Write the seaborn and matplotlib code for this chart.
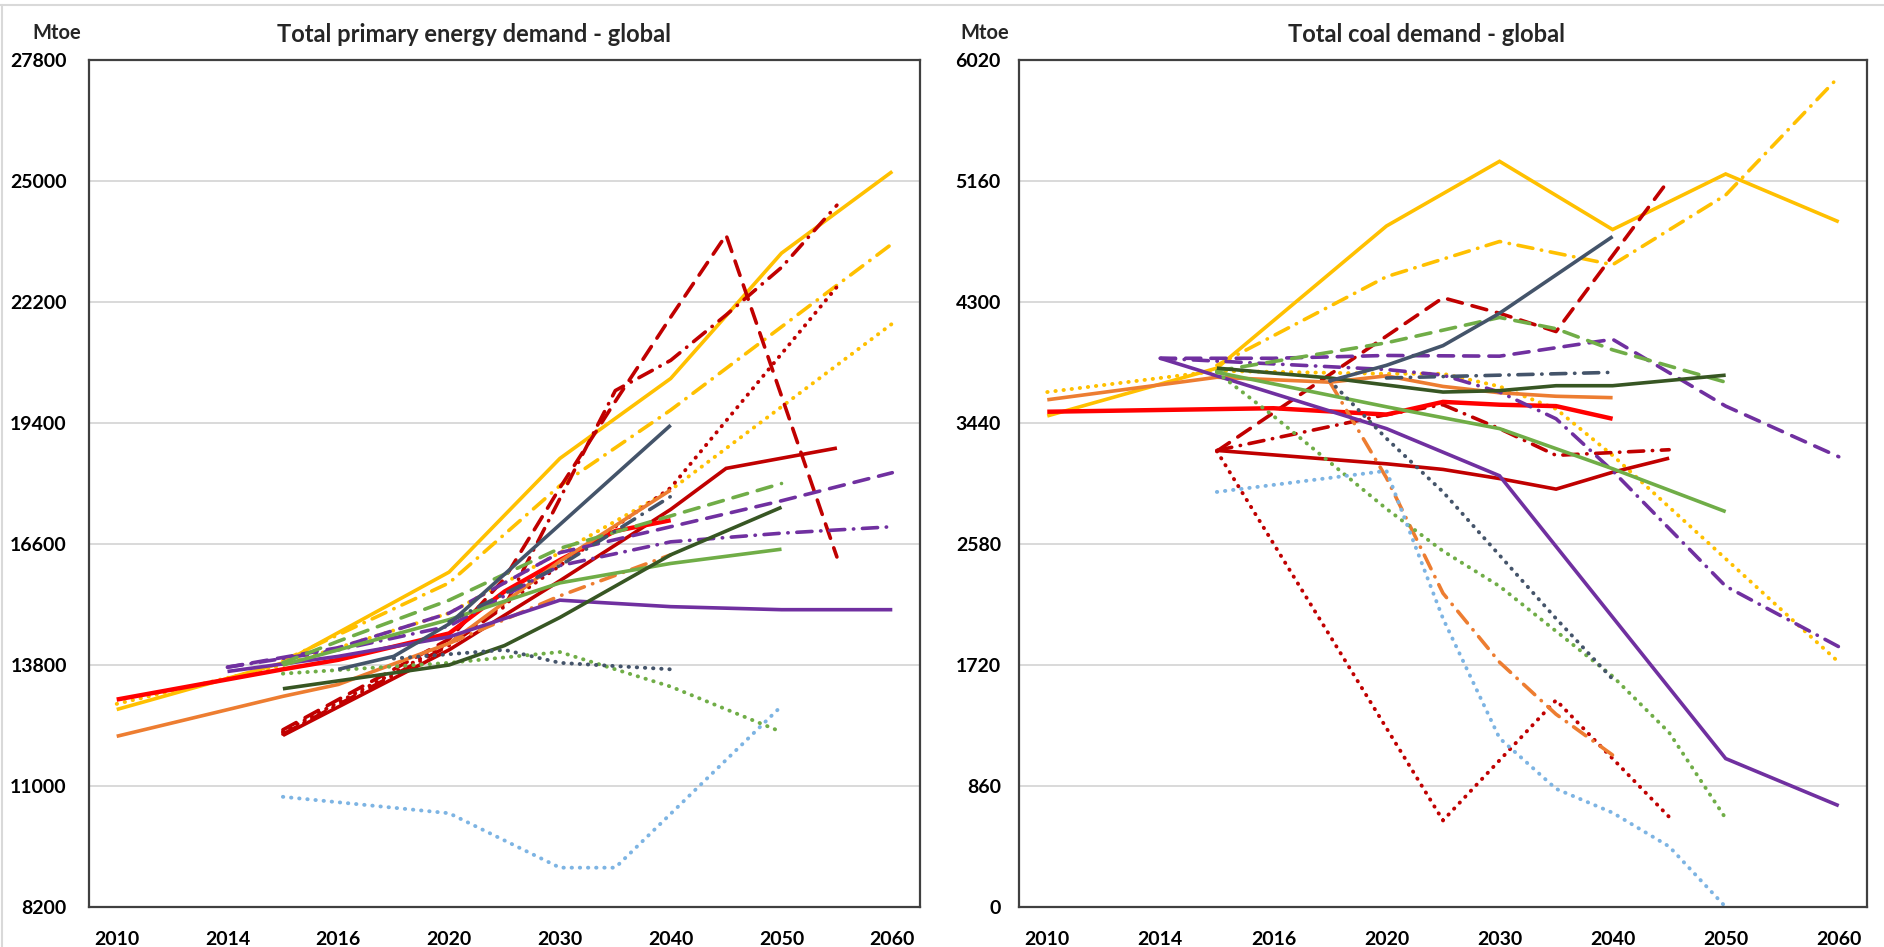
import numpy as np
import matplotlib
matplotlib.use("Agg")
import matplotlib.pyplot as plt
import seaborn as sns
from matplotlib.lines import Line2D

# category axis: labels only on every second slot
year_labels = ["2010", "", "2014", "", "2016", "", "2020", "", "2030", "", "2040", "", "2050", "", "2060"]

# ---- Total primary energy demand (Mtoe), (category index, value) ----
tpe_gold_solid = [(0, 12770), (3, 13850), (6, 15950), (8, 18580), (10, 20430), (12, 23330), (14, 25220)]
tpe_gold_dashdot = [(3, 13900), (6, 15700), (8, 17950), (10, 19700), (14, 23550)]
tpe_gold_dot = [(0, 12900), (3, 13800), (6, 15000), (8, 16400), (10, 17850), (14, 21700)]
tpe_darkred_solid = [(3, 12170), (6, 14150), (8, 15750), (10, 17400), (11, 18350), (13, 18820)]
tpe_darkred_dash = [(3, 12300), (6, 14400), (7, 15800), (8, 17900), (9, 19900), (10, 21850), (11, 23750), (13, 16300)]
tpe_darkred_dashdot = [(3, 12200), (6, 14250), (7, 15150), (9, 20150), (10, 20850), (11, 21900), (12, 23000), (13, 24440)]
tpe_darkred_dot = [(3, 12250), (6, 14300), (8, 16100), (10, 17900), (13, 22550)]
tpe_red_solid = [(0, 13000), (3, 13700), (4, 13920), (6, 14530), (7, 15500), (8, 16230), (9, 16900), (10, 17150)]
tpe_orange_solid = [(0, 12150), (3, 13075), (4, 13350), (6, 14300), (8, 16200), (10, 17850)]
tpe_orange_dashdot = [(6, 14300), (8, 15400), (10, 16350)]
tpe_purple_solid = [(2, 13650), (4, 14000), (6, 14450), (8, 15300), (10, 15150), (12, 15080), (14, 15080)]
tpe_purple_dash = [(2, 13750), (4, 14200), (6, 15000), (8, 16400), (10, 17000), (12, 17600), (14, 18250)]
tpe_purple_dashdot = [(2, 13750), (4, 14150), (6, 14700), (8, 16100), (10, 16650), (12, 16850), (14, 17000)]
tpe_green_solid = [(3, 13800), (4, 14150), (6, 14850), (8, 15700), (10, 16150), (12, 16480)]
tpe_green_dash = [(3, 13850), (4, 14350), (6, 15300), (8, 16500), (10, 17250), (12, 18000)]
tpe_green_dot = [(3, 13600), (6, 13850), (8, 14100), (10, 13300), (12, 12250)]
tpe_darkgreen_solid = [(3, 13250), (6, 13800), (7, 14250), (8, 14900), (10, 16350), (12, 17450)]
tpe_slate_solid = [(4, 13700), (5, 14000), (6, 14750), (8, 17050), (10, 19350)]
tpe_slate_dashdot = [(6, 14800), (8, 16100), (10, 17700)]
tpe_slate_dot = [(5, 13950), (6, 14050), (7, 14150), (8, 13850), (10, 13700)]
tpe_lightblue_dot = [(3, 10750), (6, 10370), (8, 9110), (9, 9110), (12, 12850)]

# ---- Total coal demand (Mtoe) ----
coal_gold_solid = [(0, 3490), (3, 3830), (6, 4840), (8, 5300), (10, 4815), (12, 5210), (14, 4870)]
coal_gold_dashdot = [(3, 3850), (6, 4480), (8, 4730), (10, 4565), (12, 5060), (14, 5900)]
coal_gold_dot = [(0, 3660), (3, 3810), (6, 3790), (7, 3790), (8, 3700), (9, 3540), (10, 3210), (14, 1740)]
coal_darkred_solid = [(3, 3245), (6, 3150), (7, 3110), (8, 3045), (9, 2970), (10, 3090), (11, 3190)]
coal_darkred_dash = [(3, 3240), (7, 4330), (8, 4220), (9, 4090), (11, 5170)]
coal_darkred_dashdot = [(3, 3245), (6, 3500), (7, 3570), (8, 3400), (9, 3210), (10, 3230), (11, 3250)]
coal_darkred_dot = [(3, 3240), (7, 615), (9, 1470), (11, 640)]
coal_red_solid = [(0, 3520), (4, 3545), (6, 3500), (7, 3590), (8, 3570), (9, 3560), (10, 3470)]
coal_orange_solid = [(0, 3605), (3, 3765), (5, 3730), (6, 3775), (7, 3700), (8, 3655), (9, 3630), (10, 3620)]
coal_orange_dashdot = [(5, 3730), (6, 3050), (7, 2230), (8, 1740), (9, 1370), (10, 1080)]
coal_purple_solid = [(2, 3900), (6, 3400), (8, 3065), (12, 1055), (14, 720)]
coal_purple_dash = [(2, 3900), (4, 3900), (6, 3920), (8, 3915), (9, 3975), (10, 4035), (12, 3560), (14, 3200)]
coal_purple_dashdot = [(2, 3900), (4, 3860), (6, 3820), (7, 3780), (8, 3660), (9, 3470), (10, 3100), (12, 2280), (14, 1850)]
coal_green_solid = [(3, 3800), (6, 3555), (8, 3400), (10, 3115), (12, 2810)]
coal_green_dash = [(3, 3810), (6, 4010), (8, 4190), (9, 4110), (10, 3960), (12, 3730)]
coal_green_dot = [(3, 3800), (4, 3490), (5, 3160), (6, 2830), (7, 2530), (8, 2280), (9, 1960), (10, 1640), (11, 1240), (12, 630)]
coal_darkgreen_solid = [(3, 3830), (5, 3760), (7, 3660), (8, 3670), (9, 3705), (10, 3705), (12, 3780)]
coal_slate_solid = [(5, 3740), (6, 3850), (7, 3990), (8, 4220), (10, 4765)]
coal_slate_dashdot = [(6, 3760), (8, 3780), (10, 3800)]
coal_slate_dot = [(5, 3740), (6, 3330), (7, 2950), (8, 2500), (9, 2050), (10, 1620)]
coal_lightblue_dot = [(3, 2950), (6, 3100), (7, 2050), (8, 1200), (9, 840), (10, 670), (11, 430), (12, 0)]

COLORS = {"gold": "#FFC000", "darkred": "#C00000", "red": "#FF0000", "orange": "#ED7D31",
          "purple": "#7030A0", "green": "#70AD47", "darkgreen": "#375623",
          "slate": "#44546A", "lightblue": "#7DB4E3"}
DASHES = {"solid": "-", "dash": (0, (4.2, 2.8)), "dashdot": (0, (4.2, 2.4, 0.1, 2.4)),
          "dot": (0, (0.1, 2.0))}


def draw_series(ax, name, pts):
    _, color, style = name.split("_")
    xs = [p[0] for p in pts]
    ys = [p[1] for p in pts]
    if color == "red":
        lw = 3.2
    elif style == "dot":
        lw = 2.8
    else:
        lw = 2.6
    sns.lineplot(x=xs, y=ys, ax=ax, color=COLORS[color], linewidth=lw,
                 linestyle=DASHES[style], dash_capstyle="round",
                 solid_capstyle="butt", solid_joinstyle="miter")


def style_axis(ax, ymin, ymax, ystep, between, ypad):
    ax.set_xlim(-0.5, 14.5)
    ax.set_ylim(ymin, ymax)
    ax.set_yticks(np.arange(ymin, ymax + 1, ystep))
    ax.set_xticks(range(0, 15, 2))
    ax.set_xticklabels([year_labels[i] for i in range(0, 15, 2)])
    if between:
        ax.set_xticks(np.arange(0.5, 13, 2), minor=True)
        ax.tick_params(axis="x", which="major", length=0, pad=17)
    else:
        ax.set_xticks(range(1, 15, 2), minor=True)
        ax.tick_params(axis="x", which="major", length=6, width=1.3, direction="in", pad=17)
    ax.tick_params(axis="x", which="minor", length=6, width=1.3, direction="in", color="#404040")
    ax.tick_params(axis="y", length=6, width=1.3, direction="in", pad=ypad, color="#404040")
    ax.tick_params(labelsize=14, colors="black")
    for lab in ax.get_xticklabels() + ax.get_yticklabels():
        lab.set_fontweight("bold")
    ax.yaxis.grid(True, color="#D9D9D9", linewidth=1.4)
    ax.xaxis.grid(False)
    ax.set_axisbelow(True)
    for sp in ax.spines.values():
        sp.set_visible(True)
        sp.set_color("#404040")
        sp.set_linewidth(1.6)
    ax.set_xlabel("")
    ax.set_ylabel("")


sns.set_theme(style="white")
plt.rcParams["font.family"] = ["Lato", "DejaVu Sans"]

W, H = 1884, 947
fig = plt.figure(figsize=(W / 100, H / 100), dpi=100)
ax1 = fig.add_axes([89 / W, 1 - 907 / H, (920 - 89) / W, (907 - 60) / H])
ax2 = fig.add_axes([1019 / W, 1 - 907 / H, (1867 - 1019) / W, (907 - 60) / H])

tpe_series = {k: v for k, v in globals().items() if k.startswith("tpe_")}
coal_series = {k: v for k, v in globals().items() if k.startswith("coal_")}
for name, pts in tpe_series.items():
    draw_series(ax1, name, pts)
for name, pts in coal_series.items():
    draw_series(ax2, name, pts)

style_axis(ax1, 8200, 27800, 2800, True, 16)
style_axis(ax2, 0, 6020, 860, False, 13)

fig.text(474 / W, 1 - 35 / H, "Total primary energy demand - global", ha="center", va="center",
         fontsize=17, fontweight="bold")
fig.text(1426 / W, 1 - 35 / H, "Total coal demand - global", ha="center", va="center",
         fontsize=17, fontweight="bold")
fig.text(57 / W, 1 - 33 / H, "Mtoe", ha="center", va="center", fontsize=14.5, fontweight="bold")
fig.text(985 / W, 1 - 33 / H, "Mtoe", ha="center", va="center", fontsize=14.5, fontweight="bold")

# light frame of the original screenshot
fig.add_artist(Line2D([0, 1], [1 - 5 / H, 1 - 5 / H], transform=fig.transFigure, color="#D9D9D9", lw=1.5))
fig.add_artist(Line2D([2 / W, 2 / W], [0, 1 - 5 / H], transform=fig.transFigure, color="#D9D9D9", lw=1.5))

fig.savefig("out.png", dpi=100)
